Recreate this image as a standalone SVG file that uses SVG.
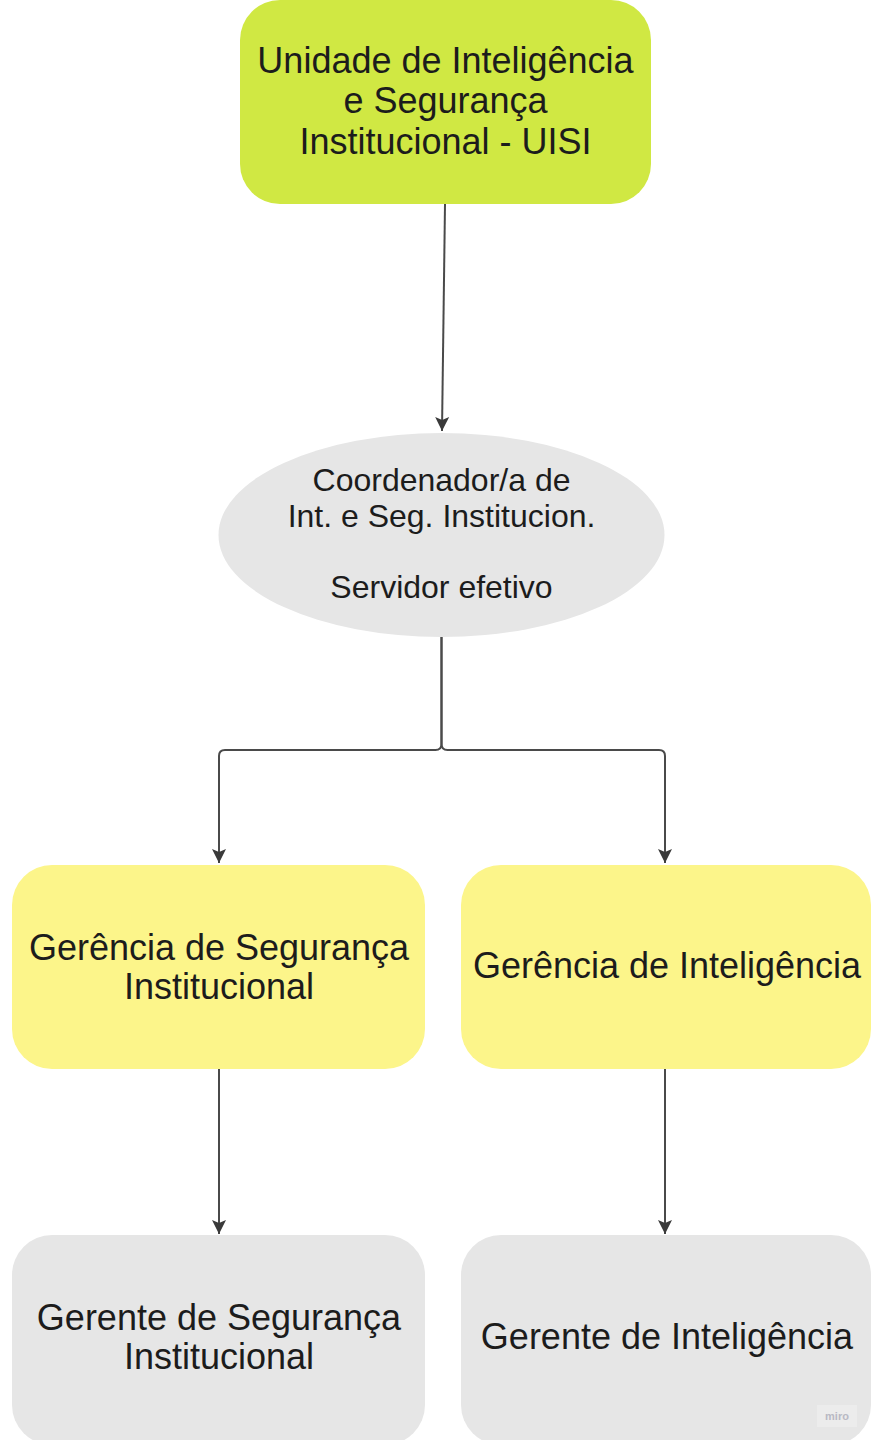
<svg xmlns="http://www.w3.org/2000/svg" width="873" height="1440" viewBox="0 0 873 1440">
<style>
  .t { font-family: "Liberation Sans", Arial, sans-serif; fill: #1c1c1c; text-anchor: middle; }
  .big { font-size: 36px; }
  .mid { font-size: 32px; }
  .conn { fill: none; stroke: #4a4a4a; stroke-width: 2; }
  .lime { fill: #d0e843; }
  .yel { fill: #fcf58a; }
  .gray { fill: #e6e6e6; }
</style>
<defs>
  <marker id="arr" markerUnits="userSpaceOnUse" markerWidth="16" markerHeight="16" viewBox="0 -8 15 16" refX="14" refY="0" orient="auto">
    <path d="M0,-7 L14,0 L0,7 L3,0 z" fill="#3a3a3a"/>
  </marker>
</defs>
<rect width="873" height="1440" fill="#ffffff"/>
<g id="connectors">
  <path class="conn" d="M445,204 L442,431" marker-end="url(#arr)"/>
  <path class="conn" d="M441.5,637 V744 Q441.5,750 435.5,750 H225 Q219,750 219,756 V863" marker-end="url(#arr)"/>
  <path class="conn" d="M441.5,637 V744 Q441.5,750 447.5,750 H659 Q665,750 665,756 V863" marker-end="url(#arr)"/>
  <path class="conn" d="M219,1069 V1234" marker-end="url(#arr)"/>
  <path class="conn" d="M665,1069 V1234" marker-end="url(#arr)"/>
</g>
<g id="uisi">
  <rect class="lime" x="240" y="0" width="411" height="204" rx="40" ry="40"/>
  <text class="t big" x="445.5" y="73">Unidade de Inteligência</text>
  <text class="t big" x="445.5" y="113">e Segurança</text>
  <text class="t big" x="445.5" y="154">Institucional - UISI</text>
</g>
<g id="coordenador">
  <ellipse class="gray" cx="441.5" cy="535" rx="223" ry="102"/>
  <text class="t mid" x="441.5" y="491">Coordenador/a de</text>
  <text class="t mid" x="441.5" y="527">Int. e Seg. Institucion.</text>
  <text class="t mid" x="441.5" y="598">Servidor efetivo</text>
</g>
<g id="gerencia-seguranca">
  <rect class="yel" x="12" y="865" width="413" height="204" rx="40" ry="40"/>
  <text class="t big" x="219" y="960">Gerência de Segurança</text>
  <text class="t big" x="219" y="999">Institucional</text>
</g>
<g id="gerencia-inteligencia">
  <rect class="yel" x="461" y="865" width="410" height="204" rx="40" ry="40"/>
  <text class="t big" x="667" y="978">Gerência de Inteligência</text>
</g>
<g id="gerente-seguranca">
  <rect class="gray" x="12" y="1235" width="413" height="210" rx="40" ry="40"/>
  <text class="t big" x="219" y="1330">Gerente de Segurança</text>
  <text class="t big" x="219" y="1369">Institucional</text>
</g>
<g id="gerente-inteligencia">
  <rect class="gray" x="461" y="1235" width="410" height="210" rx="40" ry="40"/>
  <text class="t big" x="667" y="1349">Gerente de Inteligência</text>
  <rect x="817" y="1405" width="40" height="22" fill="#ececec"/>
  <text x="837" y="1420" font-family="Liberation Sans, Arial, sans-serif" font-size="11" font-weight="bold" fill="#b9b9c4" text-anchor="middle">miro</text>
</g>
</svg>
